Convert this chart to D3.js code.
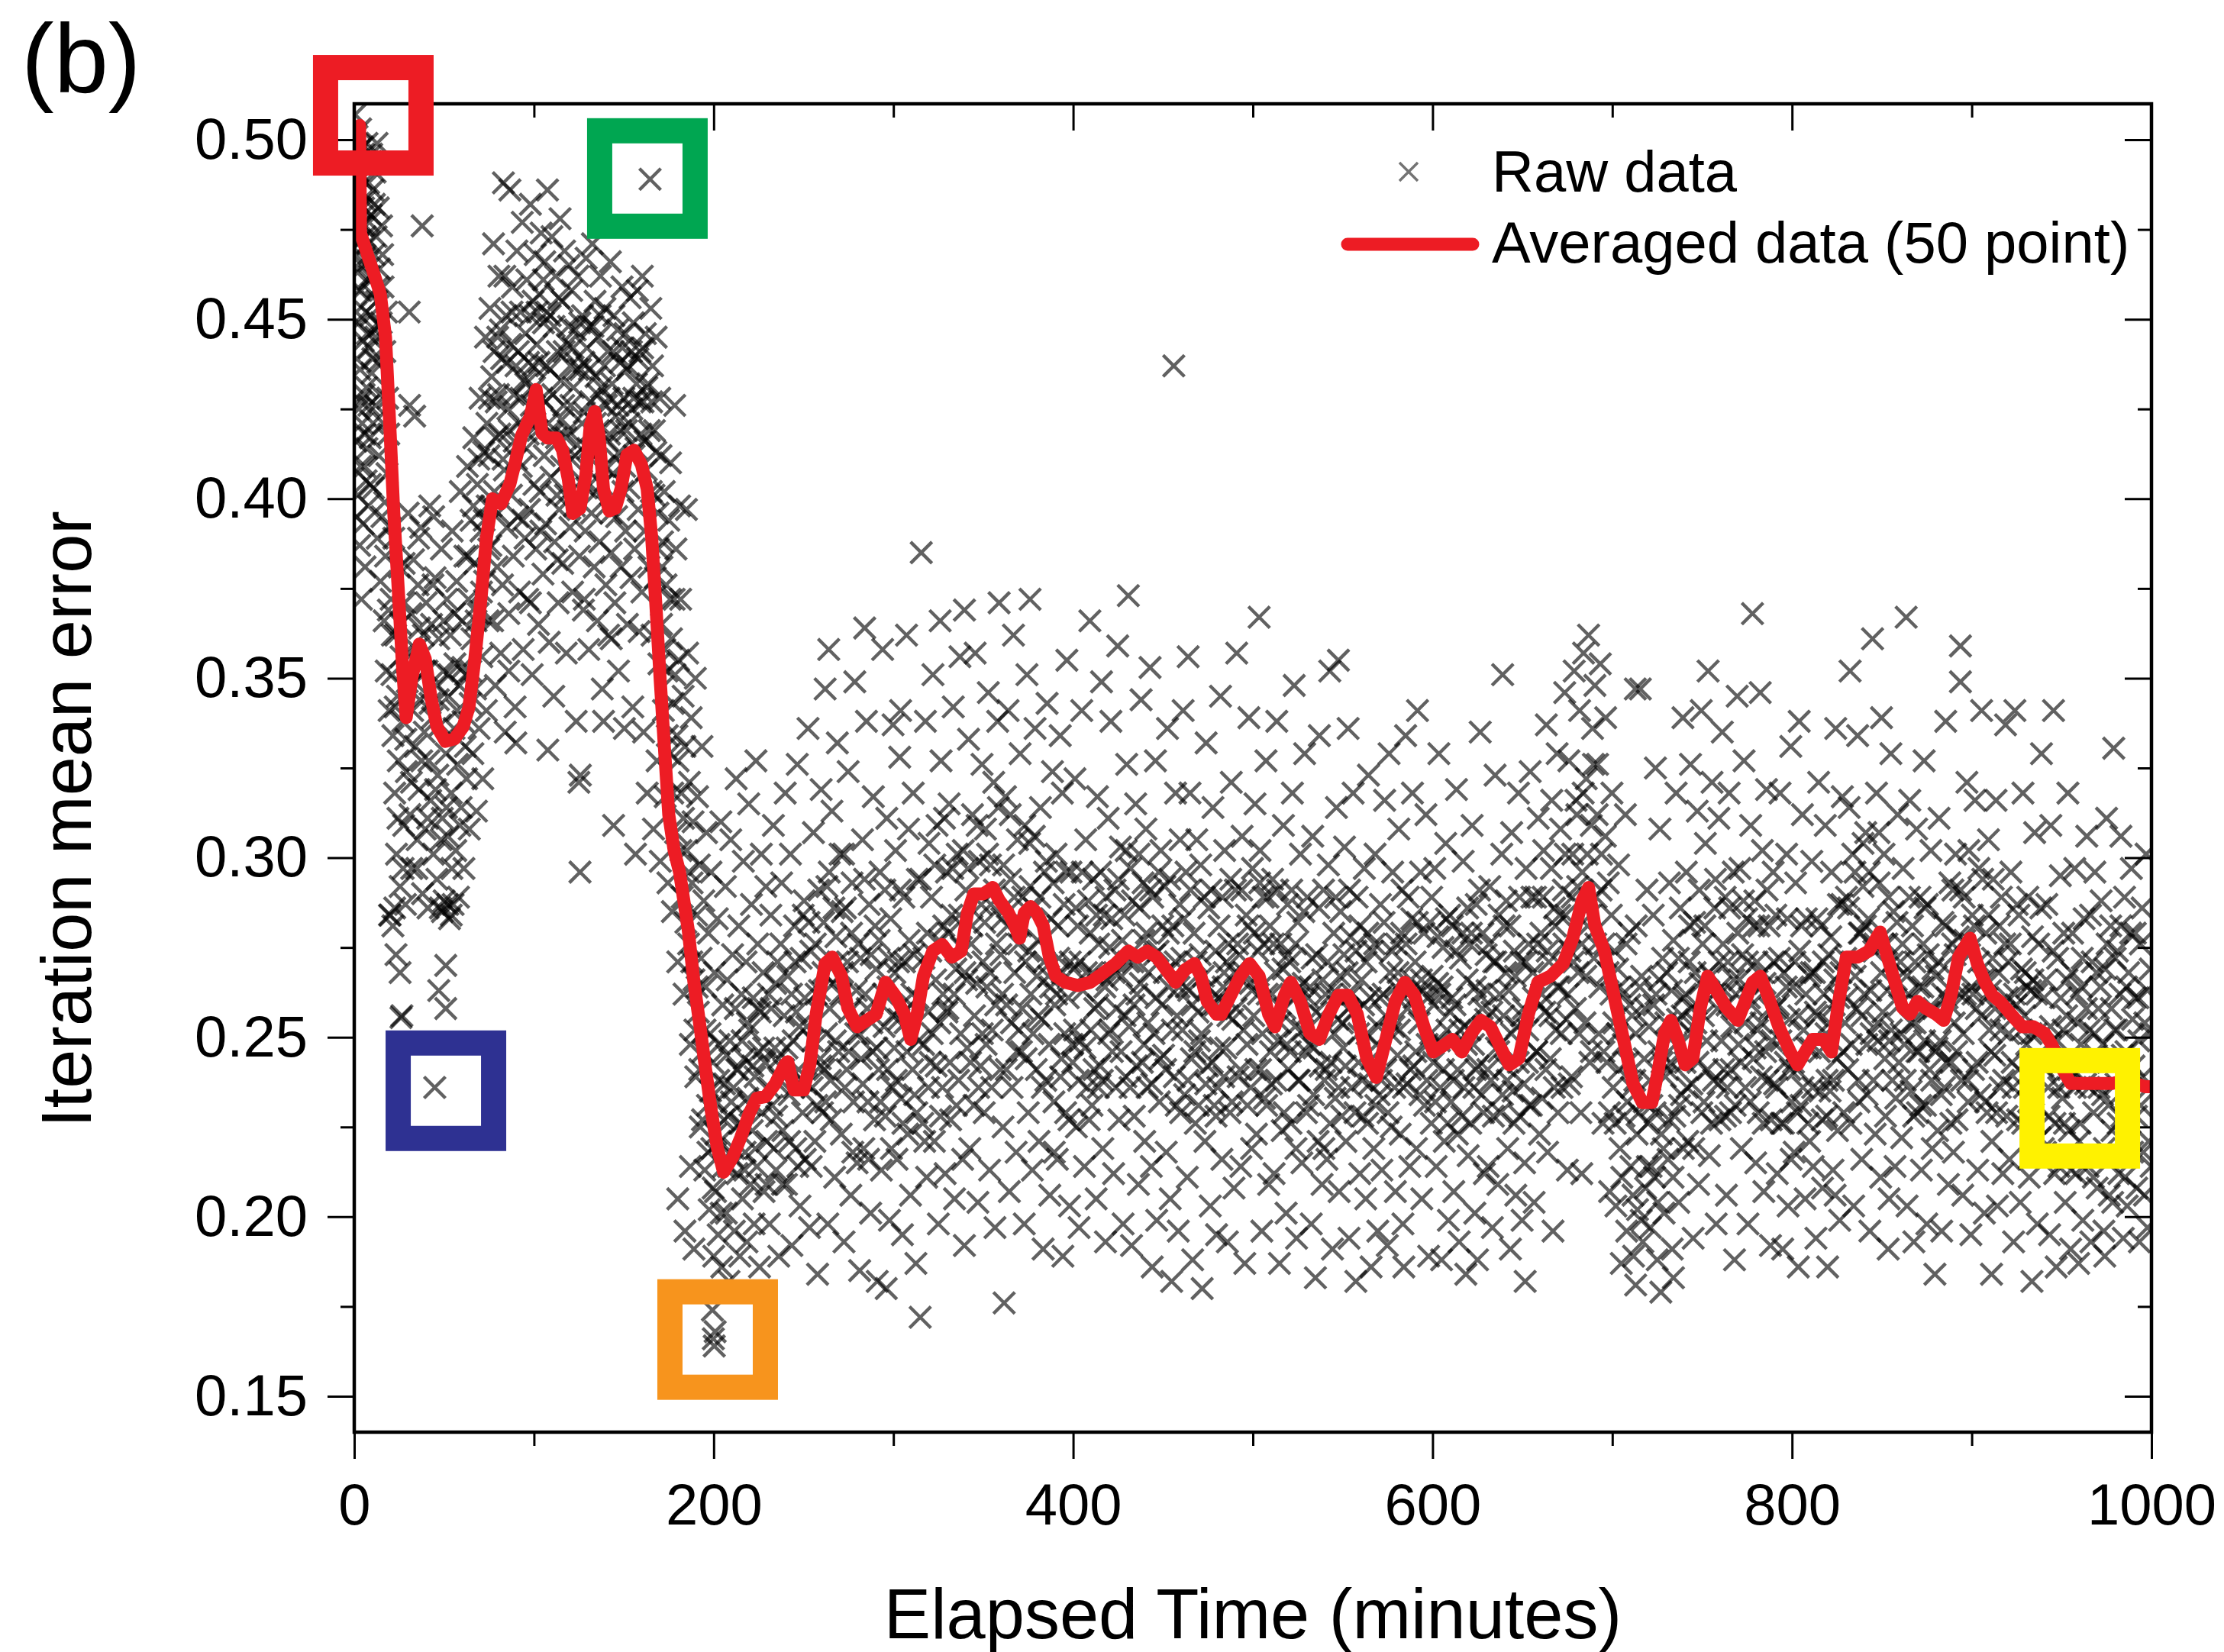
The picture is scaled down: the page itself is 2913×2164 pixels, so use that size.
<!DOCTYPE html>
<html>
<head>
<meta charset="utf-8">
<script src="https://d3js.org/d3.v7.min.js"></script>
<style>
  html, body { margin: 0; padding: 0; background: #fff; }
  svg text { font-family: "Liberation Sans", Arial, sans-serif; fill: #000; }
</style>
</head>
<body>
<svg id="chart"></svg>
<script>
// Tick values
const xTicks = [0, 200, 400, 600, 800, 1000];
const xMinorTicks = [100, 300, 500, 700, 900];
const yTicks = [0.15, 0.20, 0.25, 0.30, 0.35, 0.40, 0.45, 0.50];
const yMinorTicks = [0.175, 0.225, 0.275, 0.325, 0.375, 0.425, 0.475];

// Raw data [minutes, error]
const rawStart = [
  [0.5,0.507],[0.8,0.492],[1.2,0.478],[1.5,0.501],[1.8,0.463],[2.1,0.486],[2.4,0.449],[2.7,0.497],[3,0.472],[3.2,0.436],[3.5,0.503],[3.8,0.458],[4.1,0.489],[4.4,0.421],[4.7,0.476],[5,0.444],[5.3,0.496],[5.6,0.467],[5.9,0.409],[6.2,0.483],[6.5,0.452],[6.8,0.431],[7.1,0.499],[7.4,0.471],[7.7,0.398],[8,0.488],[8.3,0.442],[8.6,0.462],[8.9,0.417],[9.2,0.494],[9.5,0.479],[9.8,0.435],[10.1,0.457],[10.4,0.486],[10.7,0.403],[11,0.468],[11.3,0.447],[11.6,0.491],[11.9,0.426],[12.2,0.473],[12.5,0.455],[12.8,0.389],[13.1,0.438],[13.4,0.481],[13.7,0.412],[14,0.464],[14.3,0.429],[14.6,0.377],[15,0.449],[15.4,0.395],[15.8,0.468],[16.2,0.421],[16.6,0.366],[17,0.441],[17.4,0.384],[17.8,0.352],[18.2,0.407],[18.6,0.428],[19,0.369],[19.4,0.341],[19.8,0.392],[1,0.416],[2,0.401],[3,0.387],[4,0.372],[5,0.393],[6,0.381],[2.5,0.425],[7,0.414],[9,0.404],
  [20.5,0.372],[21,0.351],[21.5,0.334],[22,0.389],[22.5,0.318],[23,0.362],[23.2,0.273],[23.5,0.301],[24,0.345],[24.5,0.327],[25,0.381],[25.5,0.292],[26,0.356],[26.5,0.256],[27,0.338],[27.5,0.309],[28,0.371],[28.5,0.287],[29,0.324],[29.5,0.349],[30,0.396],[30.6,0.452],[30.8,0.426],[31,0.312],[31.5,0.368],[32,0.297],[32.5,0.341],[33,0.383],[33.6,0.423],[34,0.331],[34.5,0.358],[35,0.305],[35.5,0.376],[36,0.319],[36.5,0.344],[37,0.392],[37.8,0.476],[38,0.29],[38.5,0.362],[39,0.335],[39.5,0.308],[40,0.371],[40.5,0.352],[41,0.286],[41.5,0.327],[42,0.398],[42.5,0.316],[43,0.365],[43.5,0.339],[44,0.301],[44.8,0.236],[45,0.378],[45.5,0.348],[46,0.294],[46.5,0.323],[47,0.361],[47.9,0.286],[48,0.337],[48.5,0.386],[49,0.311],[49.5,0.352],[50,0.288],[50.9,0.27],[50.9,0.258],[51,0.329],[51.5,0.372],[52,0.306],[52.5,0.345],[53,0.283],[53.5,0.362],[54,0.318],[54.5,0.391],[55,0.287],[55.5,0.336],[56,0.354],[56.5,0.302],[57,0.377],[57.5,0.326],[58,0.289],[58.5,0.348],[59,0.402],[59.5,0.314],[60,0.366],[60.5,0.338],[61,0.297],[61.5,0.384],[62,0.351],[62.5,0.322],[63,0.409],[63.5,0.372],[64,0.308],[64.5,0.343],[65,0.394],[65.5,0.361],[66,0.329],[66.5,0.417],[67,0.382],[67.5,0.347],[68,0.313],[68.5,0.404],[69,0.368],[69.5,0.336],[70,0.428],[70.5,0.391],[71,0.356],[71.5,0.322],[72,0.413],[72.5,0.377],[73,0.445],[73.5,0.341],[74,0.398],[74.5,0.366],[20,0.284],[21.5,0.281],[22.5,0.286],[19.6,0.284],[26,0.2555],[49,0.285],[52,0.287],[54,0.284],[25.5,0.268],[47,0.263]
];
const rawHump = [
  [75,0.412],[75.5,0.453],[76,0.387],[76.5,0.434],[77,0.366],[77.5,0.471],[78,0.402],[78.5,0.348],[79,0.427],[79.5,0.381],[79.8,0.445],
  [80,0.396],[80.5,0.462],[81,0.418],[81.5,0.357],[82,0.439],[82.5,0.376],[83,0.488],[83.5,0.408],[84,0.335],[84.5,0.451],[85,0.392],
  [85.5,0.425],[86,0.368],[86.6,0.486],[87,0.443],[87.5,0.401],[88,0.459],[88.5,0.384],[89,0.416],[89.5,0.342],[89.9,0.332],[90,0.437],
  [90.5,0.469],[91,0.395],[91.5,0.421],[92,0.374],[92.5,0.452],[93,0.409],[93.5,0.477],[94,0.358],[94.5,0.433],[95,0.389],[95.3,0.446],
  [95.7,0.414],[96,0.461],[96.5,0.372],[97,0.438],[97.5,0.397],[98,0.482],[98.5,0.426],[99,0.351],[99.5,0.455],[100,0.404],[100.3,0.431],
  [100.7,0.468],[101,0.386],[101.5,0.443],[102,0.419],[102.5,0.365],[103,0.457],[103.5,0.402],[104,0.474],[104.5,0.428],[105,0.379],[105.3,0.449],
  [105.7,0.412],[106,0.466],[106.5,0.393],[107,0.437],[107.5,0.486],[107.7,0.33],[108,0.421],[108.5,0.36],[109,0.451],[109.5,0.406],[110,0.473],
  [110.5,0.429],[111,0.345],[111.5,0.388],[112,0.462],[112.5,0.417],[113,0.441],[113.5,0.371],[114,0.397],[114.5,0.478],[115,0.433],[115.3,0.409],
  [115.7,0.455],[116,0.382],[116.5,0.426],[117,0.469],[117.5,0.401],[118,0.357],[118.5,0.443],[119,0.419],[119.5,0.465],[120,0.392],[120.3,0.437],
  [120.7,0.411],[121,0.458],[121.5,0.374],[122,0.431],[122.5,0.398],[123,0.447],[123.5,0.338],[124,0.415],[124.5,0.462],[125,0.321],[125.3,0.384],
  [125.6,0.296],[125.8,0.323],[126,0.436],[126.5,0.405],[127,0.451],[127.5,0.369],[128,0.424],[128.5,0.391],[129,0.467],[129.5,0.442],[130,0.414],
  [130.5,0.358],[131,0.448],[131.5,0.427],[132,0.396],[132.5,0.471],[133,0.412],[133.5,0.381],[134,0.455],[134.5,0.434],[135,0.402],[135.3,0.366],
  [135.7,0.445],[136,0.419],[136.5,0.388],[137,0.462],[137.5,0.431],[138,0.347],[138.7,0.338],[139,0.409],[139.5,0.453],[140,0.376],[140.3,0.426],
  [140.7,0.398],[141,0.441],[141.5,0.362],[142,0.418],[142.5,0.466],[143,0.385],[143.5,0.432],[144,0.407],[144.3,0.309],[144.5,0.451],[145,0.371],
  [145.5,0.423],[146,0.395],[146.5,0.447],[147,0.352],[147.5,0.413],[148,0.438],[148.5,0.381],[149,0.459],[149.5,0.402],[150,0.428],[150.3,0.336],
  [150.7,0.446],[151,0.391],[151.5,0.419],[152,0.365],[152.5,0.437],[153,0.403],[153.5,0.456],[154,0.378],[154.5,0.425],[155,0.342],[155.3,0.449],
  [155.7,0.412],[156,0.386],[156.5,0.301],[157,0.432],[157.5,0.458],[158,0.397],[158.5,0.363],[159,0.441],[159.5,0.418],[160,0.374],[160.3,0.462],
  [160.7,0.427],[161,0.335],[161.5,0.391],[162,0.446],[162.5,0.408],[163,0.318],[163.5,0.432],[164,0.381],[164.6,0.489],[165,0.453],[165.3,0.402],
  [165.7,0.362],[166,0.437],[166.5,0.308],[167,0.419],[167.5,0.378],[168,0.445],[168.5,0.327],[169,0.396],[169.5,0.354],[170,0.428],[170.3,0.299]
];
const rawDrop = [
  [170.7,0.412],[171,0.365],[171.5,0.388],[172,0.341],[172.5,0.402],[173,0.317],[173.5,0.376],[174,0.352],[174.5,0.293],[175,0.394],[175.5,0.329],[176,0.41],[176.5,0.361],[177,0.285],[177.5,0.343],[178,0.372],[178.3,0.426],[178.8,0.307],[179,0.386],[179.5,0.334],[180,0.271],[180.5,0.355],[181,0.398],[181.6,0.372],[182,0.318],[182.5,0.289],[183,0.345],[183.5,0.262],[184,0.331],[184.8,0.397],[185,0.302],[185.5,0.357],[186,0.276],[186.5,0.321],[187,0.248],[187.5,0.339],[188,0.293],[188.5,0.31],[189,0.266],[189.8,0.35],[190,0.239],[190.5,0.284],[191,0.317],[191.5,0.257],[192,0.298],[192.5,0.225],[193,0.272],[193.5,0.331],[194,0.246],[194.5,0.288],[195,0.213],[195.5,0.264],[196,0.307],[196.5,0.231],[197,0.279],[197.5,0.202],[198,0.251],[198.5,0.296],[199,0.219],[199.5,0.243],[199.3,0.174],[199.8,0.166],[200.3,0.164],[200.8,0.168],[200,0.189],[200.5,0.268],[201,0.207],[201.5,0.232],[202,0.283],[202.5,0.195],[203,0.248],[203.5,0.221],[204,0.31],[204.5,0.186],[205,0.259],[205.5,0.214],[206,0.237],[206.5,0.292],[207,0.201],[207.5,0.266],[208,0.228],[208.5,0.182],[209,0.249],[209.5,0.305],[210,0.217],[210.5,0.273],[211,0.236],[211.5,0.196],[212,0.258],[212.5,0.322],[213,0.212],[213.5,0.241],[214,0.281],[214.5,0.189],[215,0.226],[215.5,0.262],[216,0.205],[216.5,0.299],[217,0.244],[217.5,0.218],[218,0.271],[218.5,0.193],[219,0.233],[219.5,0.315],[220,0.252],[220.5,0.209],[221,0.287],[221.5,0.224],[222,0.261],[222.5,0.198],[223,0.239],[223.5,0.327],[224,0.214],[224.5,0.276],[225,0.246],[225.5,0.186],[226,0.257],[226.5,0.301],[227,0.229],[227.5,0.268],[228,0.207],[228.5,0.243],[229,0.292],[229.5,0.221],[180,0.205],[184,0.196],[187,0.214],[189,0.191]
];
const rawPlateau = [
  [230.5,0.262],[231,0.198],[231.8,0.284],[232.5,0.231],[233.2,0.309],[234,0.247],[234.7,0.213],[235.5,0.271],[236.2,0.189],[237,0.238],[237.8,0.293],[238.5,0.224],[239.2,0.256],[239.8,0.318],
  [240.5,0.209],[241.2,0.267],[242,0.234],[242.7,0.301],[243.5,0.192],[244.2,0.249],[245,0.281],[245.7,0.219],[246.5,0.326],[247.2,0.241],[248,0.203],[248.7,0.272],[249.5,0.229],[246,0.257],
  [250.3,0.288],[251,0.216],[251.8,0.253],[252.5,0.336],[253.3,0.197],[254,0.274],[254.8,0.236],[255.5,0.307],[256.3,0.221],[257,0.262],[257.8,0.184],[258.5,0.291],[259.3,0.244],[259.8,0.319],
  [260.5,0.229],[261.2,0.282],[262,0.347],[262.8,0.251],[263.5,0.198],[264.3,0.296],[265,0.238],[265.8,0.313],[266.5,0.265],[267.3,0.211],[268,0.278],[268.8,0.332],[269.5,0.246],[264,0.358],
  [270.3,0.301],[271,0.223],[271.8,0.268],[272.5,0.193],[273.3,0.286],[274,0.241],[274.8,0.324],[275.5,0.257],[276.3,0.206],[277,0.293],[277.8,0.232],[278.5,0.349],[279.3,0.263],[279.8,0.215],
  [280.5,0.276],[281.2,0.185],[282,0.244],[282.8,0.305],[283.5,0.219],[284.3,0.262],[285,0.338],[285.8,0.232],[286.5,0.287],[287.3,0.201],[288,0.254],[288.8,0.317],[289.5,0.227],[284,0.364],
  [290.3,0.269],[291,0.182],[291.8,0.241],[292.5,0.296],[293.3,0.213],[294,0.358],[294.8,0.253],[295.5,0.228],[296,0.18],[296.3,0.311],[297,0.264],[297.8,0.199],[298.5,0.283],[299.3,0.236],[299.8,0.337],
  [300.5,0.247],[301.2,0.302],[302,0.216],[302.8,0.271],[303.5,0.328],[304.3,0.233],[305,0.195],[305.8,0.289],[306.5,0.254],[307.3,0.362],[308,0.223],[308.8,0.277],[309.5,0.206],[304,0.341],
  [310.3,0.262],[311,0.318],[311.8,0.234],[312.5,0.187],[313.3,0.294],[314,0.249],[314.9,0.172],[315.5,0.385],[316.3,0.226],[317,0.272],[317.8,0.338],[318.5,0.211],[319.3,0.257],[319.8,0.304],
  [320.5,0.243],[321.2,0.289],[322,0.351],[322.8,0.221],[323.5,0.266],[324.3,0.309],[325,0.198],[325.8,0.254],[326.5,0.327],[327.3,0.236],[328,0.281],[328.8,0.212],[329.5,0.296],[326,0.366],
  [330.3,0.258],[331,0.315],[331.8,0.227],[332.5,0.284],[333.3,0.342],[334,0.205],[334.8,0.269],[335.5,0.301],[336.3,0.238],[337,0.356],[337.8,0.275],[338.5,0.216],[339.5,0.369],[339.5,0.192],
  [340.3,0.291],[341,0.247],[341.8,0.333],[342.5,0.219],[343.3,0.276],[344,0.312],[344.8,0.231],[345.5,0.357],[346.3,0.265],[347,0.204],[347.8,0.299],[348.5,0.242],[349.3,0.326],[349.8,0.271],
  [350.5,0.229],[351.2,0.308],[352,0.264],[352.8,0.346],[353.5,0.213],[354.3,0.287],[355,0.252],[355.8,0.321],[356.5,0.197],[357.3,0.276],[358,0.338],[358.8,0.371],[359.5,0.241],[354,0.298],
  [360.3,0.283],[361,0.225],[361.6,0.176],[362.3,0.317],[363,0.259],[363.8,0.341],[364.5,0.207],[365.3,0.294],[366,0.236],[366.8,0.362],[367.5,0.268],[368.3,0.218],[369,0.305],[369.8,0.252],
  [370.5,0.329],[371.2,0.246],[372,0.289],[372.8,0.198],[373.5,0.271],[374.3,0.351],[375,0.229],[375.8,0.304],[376.5,0.262],[377.3,0.213],[378,0.286],[378.8,0.336],[379.5,0.241],[376,0.372],
  [380.3,0.277],[381,0.221],[381.8,0.314],[382.5,0.255],[383.3,0.191],[384,0.296],[384.8,0.238],[385.5,0.343],[386.3,0.267],[387,0.206],[387.8,0.283],[388.5,0.324],[389.3,0.232],[389.8,0.259],
  [390.5,0.301],[391.2,0.216],[392,0.272],[392.8,0.334],[393.5,0.244],[394.3,0.189],[395,0.287],[395.8,0.229],[396.5,0.355],[397.3,0.261],[398,0.203],[398.8,0.296],[399.5,0.248],[394,0.318],
  [400.3,0.269],[401,0.322],[401.8,0.225],[402.5,0.281],[403.3,0.197],[404,0.249],[404.8,0.341],[405.5,0.263],[406.3,0.214],[407,0.305],[407.8,0.236],[408.5,0.288],[409.3,0.366],[409.8,0.252],
  [410.5,0.231],[411.2,0.294],[412,0.258],[412.8,0.205],[413.5,0.317],[414.3,0.276],[415,0.242],[415.8,0.349],[416.5,0.219],[417.3,0.284],[418,0.193],[418.8,0.266],[419.5,0.311],[414,0.236],
  [420.3,0.275],[421,0.338],[421.8,0.246],[422.5,0.212],[423.3,0.291],[424,0.258],[424.8,0.359],[425.5,0.227],[426.3,0.303],[427,0.267],[427.8,0.198],[428.5,0.284],[429.3,0.239],[429.8,0.326],
  [430.7,0.373],[431.2,0.253],[432,0.297],[432.5,0.192],[433.3,0.271],[434,0.228],[434.8,0.315],[435.5,0.262],[436.3,0.209],[437,0.286],[437.8,0.344],[438.5,0.243],[439.3,0.277],[439.8,0.221],
  [440.5,0.308],[441.2,0.236],[442,0.268],[442.8,0.353],[443.5,0.214],[444.3,0.289],[445,0.251],[445.8,0.327],[446.5,0.199],[447.3,0.274],[448,0.232],[448.8,0.302],[449.5,0.259],[444,0.186],
  [450.3,0.245],[451,0.292],[451.8,0.218],[452.5,0.336],[453.3,0.264],[454,0.205],[454.8,0.182],[455.5,0.281],[456,0.437],[456.3,0.239],[457,0.318],[457.8,0.256],[458.5,0.196],[459.3,0.287],[459.8,0.229],
  [460.5,0.272],[461.2,0.341],[462,0.234],[462.8,0.296],[463.5,0.211],[464.3,0.263],[465,0.318],[465.8,0.244],[466.5,0.188],[467.3,0.279],[468,0.226],[468.8,0.305],[469.5,0.257],[464,0.356],
  [470.3,0.249],[471,0.298],[471.8,0.18],[472.5,0.267],[473.3,0.221],[474,0.332],[474.8,0.242],[475.5,0.286],[476.3,0.203],[477,0.259],[477.8,0.314],[478.5,0.231],[479.3,0.274],[479.8,0.195],
  [480.5,0.236],[481.2,0.281],[482,0.345],[482.8,0.216],[483.5,0.264],[484.3,0.302],[485,0.247],[485.8,0.193],[486.5,0.276],[487.3,0.229],[488,0.321],[488.8,0.255],[489.5,0.208],[484,0.268],
  [490.3,0.291],[491,0.357],[491.8,0.239],[492.5,0.273],[493.3,0.214],[494,0.306],[494.8,0.252],[495.5,0.187],[496.3,0.284],[497,0.231],[497.8,0.339],[498.5,0.265],[499.3,0.219],[499.8,0.297],
  [500.5,0.256],[501.2,0.315],[502,0.223],[502.8,0.274],[503.5,0.367],[504.3,0.241],[505,0.196],[505.8,0.289],[506.5,0.233],[507.3,0.327],[508,0.262],[508.8,0.209],[509.5,0.281],[504,0.302],
  [510.3,0.237],[511,0.294],[511.8,0.212],[512.5,0.268],[513.3,0.338],[514,0.249],[514.8,0.187],[515.5,0.276],[516.3,0.224],[517,0.309],[517.8,0.258],[518.5,0.201],[519.3,0.287],[519.8,0.241],
  [520.5,0.271],[521.2,0.226],[522,0.318],[523,0.348],[523.5,0.253],[524.3,0.194],[525,0.282],[525.8,0.238],[526.5,0.301],[527.3,0.215],[528,0.265],[528.8,0.329],[529.5,0.246],[524,0.219],
  [530.3,0.289],[531,0.231],[531.8,0.264],[532.5,0.198],[533.3,0.306],[534,0.247],[534.8,0.183],[535.5,0.273],[536.3,0.221],[537,0.334],[537.8,0.256],[538.5,0.209],[539.3,0.291],[539.8,0.238],
  [540.5,0.262],[541.2,0.216],[542,0.298],[542.8,0.352],[543.5,0.243],[544.3,0.191],[545,0.279],[545.8,0.233],[546.5,0.314],[547.3,0.255],[547.6,0.355],[548,0.207],[548.8,0.285],[549.5,0.228],
  [550.3,0.247],[551,0.303],[551.8,0.221],[552.5,0.268],[553,0.336],[553.5,0.194],[554.3,0.278],[555,0.236],[555.8,0.318],[556.5,0.257],[557.3,0.182],[558,0.289],[558.8,0.243],[559.5,0.212],
  [560.5,0.266],[561.2,0.228],[562,0.297],[562.8,0.205],[563.5,0.251],[564.3,0.323],[565,0.237],[565.8,0.186],[566.5,0.274],[567.3,0.219],[568,0.301],[568.8,0.248],[569.5,0.196],[564,0.279],
  [570.3,0.234],[571,0.287],[571.8,0.213],[572.5,0.262],[573.3,0.316],[574,0.241],[574.8,0.192],[575.8,0.329],[576.3,0.268],[577,0.225],[577.8,0.296],[578.5,0.253],[579.3,0.207],[579.8,0.276],
  [580.5,0.245],[581.2,0.308],[582,0.223],[582.8,0.279],[583.5,0.198],[584.3,0.261],[585,0.334],[585.8,0.237],[586.5,0.289],[587.3,0.214],[588,0.266],[588.8,0.318],[589.5,0.242],[584,0.186],
  [590.3,0.271],[591,0.219],[591.6,0.341],[592.5,0.254],[593.3,0.296],[594,0.205],[594.8,0.263],[595.5,0.231],[596.3,0.312],[597,0.248],[597.8,0.189],[598.5,0.282],[599.3,0.226],[599.8,0.267],
  [600.5,0.243],[601.2,0.297],[602,0.214],[602.8,0.265],[603.5,0.329],[604.3,0.236],[605,0.188],[605.8,0.275],[606.5,0.221],[607.3,0.304],[608,0.252],[608.8,0.199],[609.5,0.284],[604,0.262],
  [610.3,0.232],[611,0.281],[611.8,0.207],[612.5,0.259],[613.3,0.319],[614,0.241],[614.8,0.193],[615.5,0.272],[616.3,0.228],[617,0.299],[617.8,0.253],[618.5,0.184],[619.3,0.266],[619.8,0.217],
  [620.5,0.276],[621.2,0.226],[622,0.309],[622.8,0.248],[623.5,0.201],[624.3,0.287],[625,0.188],[625.8,0.262],[626.5,0.335],[627.3,0.234],[628,0.279],[628.8,0.212],[629.5,0.255],[624,0.241],
  [630.3,0.263],[631,0.214],[631.8,0.292],[632.5,0.238],[633.3,0.197],[634,0.271],[634.8,0.323],[635.5,0.247],[636.3,0.209],[637,0.284],[637.8,0.229],[638.5,0.301],[639,0.351],[639.5,0.256],
  [640.3,0.242],[641,0.288],[641.8,0.219],[642.5,0.263],[643.3,0.191],[644,0.307],[644.8,0.235],[645.5,0.274],[646.3,0.206],[647,0.253],[647.8,0.318],[648.5,0.228],[649.3,0.271],[649.8,0.199],
  [650.5,0.258],[651.2,0.215],[651.5,0.182],[652,0.297],[652.8,0.243],[653.5,0.276],[654.3,0.324],[655,0.231],[655.8,0.268],[656.5,0.204],[657.3,0.289],[658,0.246],[658.8,0.311],[659.5,0.223],
  [660.3,0.279],[661,0.233],[661.8,0.302],[662.5,0.257],[663.3,0.337],[664,0.218],[664.8,0.271],[665.5,0.244],[666.3,0.316],[667,0.196],[667.8,0.286],[668.5,0.252],[669.3,0.329],[669.8,0.229],
  [670.5,0.264],[671.2,0.308],[672,0.236],[672.8,0.291],[673.5,0.346],[674.3,0.255],[675,0.213],[675.8,0.327],[676.5,0.274],[677.3,0.239],[678,0.301],[678.8,0.352],[679.5,0.258],[674,0.284],
  [680.3,0.312],[681,0.268],[681.8,0.341],[682.5,0.229],[683.3,0.296],[684,0.357],[684.8,0.254],[685.5,0.322],[686.3,0.281],[686.8,0.362],[687.5,0.243],[688.3,0.309],[689,0.336],[689.8,0.272],[683,0.212],
  [690.3,0.348],[691,0.289],[691.8,0.326],[692.5,0.251],[693.3,0.354],[694,0.301],[694.8,0.226],[695.5,0.276],[696.3,0.339],[697,0.243],[697.8,0.293],[698.5,0.207],[699.3,0.262],[699.8,0.318],
  [700.5,0.236],[701.2,0.274],[702,0.203],[702.8,0.251],[703.5,0.298],[704.3,0.219],[705,0.187],[705.8,0.262],[706.5,0.228],[707.3,0.312],[708,0.196],[708.8,0.243],[709.5,0.279],[704,0.264],
  [710.3,0.214],[711,0.256],[711.8,0.189],[712.5,0.238],[712.8,0.347],[713.3,0.281],[714,0.202],[714.8,0.229],[715.6,0.347],[716.3,0.267],[717,0.193],[717.8,0.244],[718.5,0.208],[719.3,0.291],[719.8,0.226],[713,0.181],
  [720.5,0.253],[721.2,0.197],[722,0.231],[722.8,0.284],[723.5,0.211],[724.3,0.262],[725,0.188],[725.8,0.246],[726.5,0.308],[727.3,0.223],[728,0.272],[728.8,0.201],[729.5,0.239],[724,0.325],[727,0.179],
  [730.3,0.268],[731,0.216],[731.8,0.293],[732.5,0.243],[733.3,0.191],[734,0.277],[734.8,0.228],[735.5,0.318],[736.3,0.255],[737,0.204],[737.8,0.286],[738.5,0.234],[739.3,0.339],[739.8,0.261],[734,0.183],
  [740.5,0.243],[741.2,0.296],[742,0.221],[742.8,0.271],[743.5,0.326],[744.3,0.237],[745,0.194],[745.8,0.282],[746.5,0.254],[747.3,0.313],[748,0.209],[748.8,0.265],[749.5,0.341],[744,0.258],
  [750.3,0.276],[751,0.232],[751.8,0.304],[752.5,0.249],[753.3,0.352],[754,0.217],[754.8,0.267],[755.5,0.321],[756.3,0.238],[757,0.286],[757.8,0.198],[758.5,0.258],[759.3,0.311],[759.8,0.227],
  [760.5,0.264],[761.2,0.335],[762,0.241],[762.8,0.289],[763.5,0.206],[764.3,0.271],[765,0.318],[765.8,0.229],[766.5,0.253],[767.3,0.296],[768,0.188],[768.8,0.262],[769.5,0.345],[764,0.236],
  [770.3,0.248],[771,0.297],[771.8,0.219],[772.5,0.273],[773.3,0.327],[774,0.236],[774.8,0.283],[775.5,0.198],[776.3,0.261],[777,0.309],[778,0.368],[778.5,0.244],[779.3,0.288],[779.8,0.215],
  [780.5,0.271],[781.2,0.229],[782.3,0.346],[782.8,0.254],[783.5,0.302],[784.3,0.207],[785,0.265],[785.8,0.319],[786.5,0.238],[787.3,0.281],[788,0.192],[788.8,0.249],[789.5,0.296],[784,0.226],
  [790.3,0.237],[791,0.284],[791.8,0.212],[792.5,0.259],[793.3,0.318],[794,0.226],[794.8,0.191],[795.5,0.268],[796.3,0.243],[797,0.301],[797.8,0.203],[798.5,0.255],[799.3,0.331],[799.8,0.232],
  [800.5,0.264],[801.2,0.218],[802,0.293],[802.8,0.241],[803.5,0.186],[804.3,0.274],[805,0.231],[805.8,0.312],[806.5,0.252],[807.3,0.205],[808,0.283],[808.8,0.226],[809.5,0.267],[804,0.338],
  [810.3,0.247],[811,0.299],[811.8,0.214],[812.5,0.268],[813.3,0.194],[814,0.256],[814.8,0.321],[815.5,0.235],[816.3,0.281],[817,0.208],[817.8,0.262],[818.5,0.309],[819.3,0.228],[819.8,0.186],
  [820.5,0.273],[821.2,0.235],[822,0.296],[822.8,0.213],[823.5,0.259],[824.3,0.336],[825,0.244],[825.8,0.287],[826.5,0.199],[827.3,0.268],[828,0.317],[828.8,0.229],[829.5,0.254],[824,0.206],
  [830.3,0.289],[831,0.241],[831.8,0.314],[832.3,0.352],[832.8,0.226],[833.5,0.271],[834.3,0.203],[835,0.296],[835.8,0.258],[836.5,0.334],[837.3,0.232],[838,0.279],[838.8,0.216],[839.5,0.304],
  [840.3,0.262],[841,0.307],[841.8,0.234],[842.5,0.283],[843.3,0.196],[844,0.251],[844.8,0.361],[845.5,0.274],[846.3,0.223],[847,0.318],[847.8,0.249],[848.5,0.293],[849.3,0.211],[849.8,0.339],
  [850.5,0.257],[851.2,0.301],[852,0.228],[852.8,0.276],[853.5,0.191],[854.3,0.249],[855,0.329],[855.8,0.238],[856.5,0.285],[857.3,0.214],[858,0.266],[858.8,0.312],[859.5,0.243],[854,0.205],
  [860.3,0.271],[861,0.222],[861.8,0.297],[862.5,0.248],[863.5,0.367],[864,0.203],[864.8,0.262],[865.5,0.316],[866.3,0.235],[867,0.281],[867.8,0.193],[868.5,0.254],[869.3,0.308],[869.8,0.229],
  [870.5,0.246],[871.2,0.289],[872,0.213],[872.8,0.264],[873.5,0.327],[874.3,0.231],[875,0.198],[875.8,0.273],[876.5,0.241],[877.3,0.302],[878,0.219],[878.8,0.258],[879.5,0.184],[874,0.286],
  [880.3,0.267],[881,0.224],[881.8,0.311],[882.5,0.249],[883.3,0.196],[884,0.282],[884.8,0.236],[885.5,0.338],[886.3,0.261],[887,0.209],[887.8,0.293],[888.5,0.243],[889.3,0.276],[889.8,0.218],
  [890.3,0.254],[891,0.301],[891.8,0.227],[892.5,0.278],[893.7,0.359],[893.7,0.349],[894.3,0.238],[895,0.206],[895.8,0.289],[896.5,0.262],[897.3,0.321],[898,0.232],[898.8,0.273],[899.5,0.195],
  [900.3,0.284],[901,0.241],[901.8,0.316],[902.5,0.258],[903.3,0.213],[904,0.297],[904.8,0.234],[905.5,0.341],[906.3,0.266],[907,0.201],[907.8,0.279],[908.5,0.229],[909.3,0.305],[909.8,0.252],
  [910.5,0.263],[911,0.184],[911.2,0.221],[912,0.294],[912.8,0.245],[913.5,0.316],[914.3,0.203],[915,0.268],[915.8,0.236],[916.5,0.289],[917.3,0.212],[918,0.257],[918.8,0.337],[919.5,0.228],
  [920.3,0.271],[921,0.216],[921.8,0.296],[922.5,0.243],[923.3,0.193],[924,0.341],[924.8,0.259],[925.5,0.227],[926.3,0.284],[927,0.204],[927.8,0.252],[928.5,0.318],[929.3,0.236],[929.8,0.268],
  [930.5,0.248],[931.2,0.289],[932,0.211],[932.8,0.263],[933.5,0.182],[934.3,0.234],[935,0.307],[935.8,0.251],[936.5,0.198],[937.3,0.276],[938,0.222],[938.8,0.329],[939.5,0.242],[934,0.266],
  [940.3,0.261],[941,0.218],[941.8,0.287],[942.5,0.236],[943.3,0.195],[944,0.309],[944.8,0.249],[945.5,0.341],[946.3,0.226],[947,0.186],[947.8,0.272],[948.5,0.214],[949.3,0.295],[949.8,0.243],
  [950.5,0.233],[951.2,0.279],[952,0.204],[952.8,0.256],[953.5,0.318],[954.3,0.224],[955,0.191],[955.8,0.268],[956.5,0.241],[957.3,0.297],[958,0.212],[958.8,0.254],[959.5,0.187],[954,0.238],
  [960.3,0.226],[961,0.264],[961.8,0.199],[962.5,0.283],[963.3,0.237],[964,0.306],[964.8,0.214],[965.5,0.252],[966.3,0.193],[967,0.271],[967.8,0.229],[968.5,0.296],[969.3,0.245],[969.8,0.208],
  [970.5,0.258],[971.2,0.217],[972,0.288],[972.8,0.234],[973.5,0.196],[974.3,0.269],[975,0.311],[975.8,0.243],[976.5,0.206],[977.3,0.281],[978,0.224],[979,0.3305],[979.5,0.252],[974,0.189],
  [980.3,0.237],[981,0.274],[981.8,0.212],[982.5,0.262],[983,0.306],[983.5,0.228],[984.3,0.194],[985,0.289],[985.8,0.246],[986.5,0.203],[987.3,0.268],[988,0.221],[988.8,0.297],[989.5,0.255],
  [990.3,0.242],[991,0.279],[991.8,0.208],[992.5,0.261],[993.3,0.193],[994,0.231],[994.8,0.286],[995.5,0.218],[996.3,0.254],[997,0.301],[997.8,0.197],[998.5,0.236],[999.3,0.269],[999.8,0.214]
];
// Dense core of the raw cloud (extra points where the crosses overlap)
const rawCoreA = [
  [0.3,0.495],[0.7,0.468],[1.1,0.452],[1.4,0.439],[1.7,0.491],[2.2,0.471],[2.6,0.458],[3.4,0.481],[3.7,0.427],[4.2,0.465],[4.6,0.498],[5.2,0.481],[5.5,0.429],[6.1,0.473],[6.6,0.405],[7.2,0.446],[7.9,0.461],[8.4,0.477],[9.1,0.451],[9.7,0.496],[10.3,0.439],[11.2,0.482],[12,0.445],[12.7,0.499],[13.3,0.459],[14.1,0.448],[15.2,0.476],[16,0.459],[16.9,0.399],[18,0.452],[19.2,0.418],[1.3,0.395],[3.6,0.409],[5.8,0.418],[8.1,0.426],[10.5,0.421],
  [21.2,0.362],[22.8,0.342],[24.3,0.311],[25.8,0.365],[27.2,0.297],[28.7,0.333],[30.3,0.357],[31.8,0.321],[33.3,0.349],[34.8,0.297],[36.3,0.364],[37.5,0.327],[39.2,0.352],[40.8,0.311],[42.2,0.343],[43.8,0.376],[45.2,0.319],[46.8,0.344],[48.3,0.305],[49.8,0.366],[51.3,0.314],[52.8,0.351],[54.3,0.297],[55.8,0.368],[57.3,0.341],[58.8,0.309],[60.3,0.353],[61.8,0.331],[63.3,0.384],[64.8,0.352],[66.3,0.398],[67.8,0.366],[69.3,0.411],[70.8,0.374],[72.3,0.394],[73.8,0.421],[74.8,0.386],[27.8,0.382],[35.8,0.389],[44.2,0.395],
  [75.2,0.428],[76.2,0.398],[77.8,0.441],[78.8,0.417],[80.3,0.429],[81.3,0.447],[82.8,0.411],[83.8,0.462],[85.2,0.438],[86.3,0.419],[87.8,0.452],[88.8,0.429],[90.3,0.411],[91.3,0.441],[92.8,0.428],[93.8,0.394],[95.5,0.432],[96.8,0.418],[97.8,0.451],[99.2,0.437],[100.5,0.421],[101.8,0.452],[102.8,0.438],[103.8,0.391],[105.2,0.461],[106.2,0.427],[107.2,0.452],[108.8,0.436],[110.2,0.418],[111.2,0.448],[112.8,0.401],[113.8,0.456],[115.5,0.422],[116.8,0.441],[117.8,0.417],[119.2,0.448],[120.5,0.426],[121.8,0.442],[122.8,0.412],[124.2,0.436],[125.5,0.449],[126.8,0.421],[127.8,0.438],[129.2,0.403],[130.8,0.436],[131.8,0.411],[132.8,0.448],[134.2,0.421],[135.5,0.429],[136.8,0.451],[137.8,0.404],[139.2,0.437],[140.5,0.416],[141.8,0.428],[142.8,0.396],[144.2,0.441],[145.8,0.411],[146.8,0.426],[148.2,0.419],[149.2,0.442],[150.5,0.409],[151.8,0.436],[152.8,0.421],[154.2,0.441],[155.5,0.428],[156.8,0.414],[157.8,0.439],[159.2,0.427],[160.5,0.442],[161.8,0.416],[162.8,0.431],[164.2,0.419],[165.5,0.427],[166.8,0.401],[167.8,0.413],[169.2,0.386],[143,0.361],[128,0.372],[113,0.383],[98,0.371],[86,0.352],
  [171.2,0.381],[172.8,0.358],[174.2,0.334],[175.8,0.372],[177.2,0.318],[178.5,0.351],[180.2,0.327],[181.8,0.302],[183.2,0.311],[184.5,0.282],[186.2,0.296],[187.8,0.271],[189.5,0.252],[190.8,0.264],[192.2,0.241],[193.8,0.227],[195.2,0.252],[196.8,0.218],[198.2,0.235],[199.7,0.208],[201.2,0.223],[202.8,0.238],[204.2,0.201],[205.8,0.227],[207.2,0.245],[208.2,0.214],[209.8,0.232],[211.2,0.219],[212.8,0.241],[214.2,0.226],[215.8,0.249],[217.2,0.213],[218.8,0.254],[220.2,0.231],[221.8,0.242],[223.2,0.219],[224.8,0.258],[226.2,0.234],[227.8,0.247],[229.2,0.209]
];
const rawCoreB = [
  [230.8,0.236],[232,0.258],[233.5,0.219],[234.5,0.265],[236,0.244],[237.3,0.276],[238.3,0.209],[239,0.241],[235,0.228],
  [240.8,0.247],[242.2,0.221],[243.3,0.262],[244.6,0.236],[245.3,0.271],[246.8,0.214],[247.7,0.253],[249,0.238],[249.8,0.284],
  [250.7,0.261],[251.6,0.237],[253,0.282],[254.3,0.214],[255.2,0.249],[256.6,0.276],[257.4,0.231],[258.9,0.263],[259.6,0.242],
  [260.8,0.268],[261.6,0.241],[263,0.292],[264.6,0.258],[265.4,0.227],[266.9,0.286],[267.7,0.249],[269.2,0.271],[262.3,0.232],
  [270.7,0.262],[271.5,0.285],[273,0.236],[274.4,0.271],[275.2,0.246],[276.7,0.279],[277.4,0.218],[279,0.251],[272.3,0.301],
  [280.8,0.251],[281.7,0.272],[283,0.237],[283.9,0.294],[285.4,0.258],[286.2,0.216],[287.6,0.273],[288.4,0.246],[289.8,0.281],
  [290.7,0.247],[292.1,0.277],[292.9,0.232],[294.4,0.262],[295.2,0.291],[296.7,0.241],[297.5,0.272],[298.9,0.219],[299.5,0.256],
  [300.8,0.268],[301.6,0.238],[303,0.255],[303.9,0.291],[305.3,0.226],[306.1,0.271],[307.6,0.246],[308.4,0.308],[309.8,0.259],
  [310.7,0.241],[311.4,0.273],[313,0.229],[313.7,0.261],[315.1,0.294],[316.8,0.248],[317.4,0.221],[318.9,0.279],[319.5,0.236],
  [320.8,0.274],[321.6,0.251],[323,0.298],[323.8,0.242],[325.4,0.277],[326.2,0.228],[327.6,0.262],[328.4,0.311],[329.8,0.257],
  [330.7,0.279],[331.4,0.243],[333,0.297],[333.8,0.262],[335.1,0.231],[336.7,0.284],[337.4,0.251],[338.9,0.302],[339.8,0.268],
  [340.7,0.266],[341.4,0.297],[342.9,0.243],[343.7,0.281],[345.1,0.256],[346.6,0.309],[347.4,0.236],[348.9,0.287],[349.5,0.251],
  [350.8,0.282],[351.6,0.248],[352.4,0.301],[353.9,0.268],[354.7,0.236],[356.2,0.291],[356.9,0.259],[358.4,0.314],[359.8,0.273],
  [360.7,0.262],[361.3,0.298],[362.8,0.241],[363.4,0.281],[365,0.312],[365.7,0.254],[367.2,0.289],[368.7,0.246],[369.4,0.276],
  [370.8,0.281],[371.6,0.258],[373.1,0.309],[373.9,0.244],[375.3,0.274],[376.1,0.292],[377.7,0.251],[378.4,0.306],[379.8,0.267],
  [380.7,0.256],[381.5,0.289],[382.9,0.236],[383.8,0.271],[385.1,0.299],[386.7,0.248],[387.4,0.264],[388.9,0.293],[389.5,0.218],
  [390.8,0.262],[391.6,0.281],[393,0.239],[393.9,0.268],[395.3,0.251],[396.1,0.296],[397.7,0.227],[398.4,0.271],[399.8,0.243],
  [400.7,0.252],[401.5,0.286],[403,0.238],[403.8,0.271],[405.1,0.296],[406.6,0.247],[407.4,0.268],[408.9,0.227],[409.5,0.279],
  [410.8,0.268],[411.6,0.241],[413,0.284],[413.8,0.259],[415.3,0.296],[416.2,0.238],[417.7,0.264],[418.4,0.289],[419.8,0.251],
  [420.7,0.252],[421.5,0.283],[423,0.268],[423.8,0.236],[425.2,0.294],[426.7,0.246],[427.4,0.277],[428.9,0.256],[429.5,0.302],
  [430.8,0.271],[431.7,0.236],[433,0.288],[433.9,0.259],[435.2,0.242],[436.7,0.301],[437.4,0.265],[438.9,0.293],[439.5,0.248],
  [440.8,0.279],[441.6,0.254],[443,0.291],[443.8,0.237],[445.3,0.273],[446.1,0.261],[447.7,0.296],[448.4,0.244],[449.8,0.281],
  [450.7,0.268],[451.5,0.241],[453,0.279],[453.8,0.294],[455.2,0.252],[456.8,0.271],[457.4,0.231],[458.9,0.264],[459.5,0.305],
  [460.8,0.252],[461.7,0.283],[463,0.264],[463.9,0.238],[465.3,0.291],[466.2,0.259],[467.7,0.246],[468.4,0.271],[469.8,0.231],
  [470.7,0.273],[471.5,0.251],[473,0.289],[473.8,0.237],[475.2,0.264],[476.7,0.291],[477.4,0.243],[478.9,0.259],[479.5,0.228],
  [480.8,0.261],[481.6,0.247],[483,0.289],[483.8,0.239],[485.3,0.271],[486.1,0.256],[487.7,0.294],[488.4,0.232],[489.8,0.268],
  [490.7,0.258],[491.5,0.276],[493,0.241],[493.8,0.291],[495.2,0.268],[496.8,0.248],[497.4,0.281],[498.9,0.236],[499.5,0.263],
  [500.8,0.279],[501.6,0.241],[503,0.262],[503.8,0.293],[505.3,0.251],[506.1,0.276],[507.7,0.231],[508.4,0.289],[509.8,0.246],
  [510.7,0.262],[511.5,0.276],[513,0.238],[513.8,0.291],[515.2,0.254],[516.8,0.269],[517.4,0.229],[518.9,0.248],[519.5,0.273],
  [520.8,0.246],[521.6,0.291],[523,0.261],[523.8,0.276],[525.3,0.238],[526.1,0.264],[527.7,0.252],[528.4,0.285],[529.8,0.229],
  [530.7,0.261],[531.5,0.248],[533,0.272],[533.8,0.234],[535.2,0.257],[536.8,0.286],[537.4,0.242],[538.9,0.266],[539.5,0.219],
  [540.8,0.241],[541.6,0.271],[543,0.226],[543.8,0.262],[545.3,0.251],[546.1,0.289],[547.7,0.236],[548.4,0.267],[549.8,0.254],
  [550.7,0.273],[551.5,0.242],[553,0.258],[553.8,0.291],[555.2,0.262],[556.8,0.229],[557.4,0.274],[558.9,0.251],[559.5,0.281],
  [560.8,0.238],[561.6,0.259],[563,0.271],[563.8,0.226],[565.3,0.261],[566.1,0.244],[567.7,0.276],[568.4,0.231],[569.8,0.253],
  [570.7,0.261],[571.5,0.238],[573,0.282],[573.8,0.256],[575.2,0.229],[576.8,0.251],[577.4,0.274],[578.9,0.236],[579.5,0.264],
  [580.8,0.268],[581.6,0.252],[583,0.291],[583.8,0.236],[585.3,0.276],[586.1,0.258],[587.7,0.241],[588.4,0.283],[589.8,0.261],
  [590.7,0.246],[591.5,0.282],[593,0.234],[593.8,0.266],[595.2,0.279],[596.8,0.238],[597.4,0.261],[598.9,0.251],[599.5,0.289],
  [600.8,0.259],[601.6,0.232],[603,0.278],[603.8,0.249],[605.3,0.264],[606.1,0.241],[607.7,0.283],[608.4,0.226],[609.8,0.257],
  [610.7,0.261],[611.5,0.238],[613,0.274],[613.8,0.223],[615.2,0.252],[616.8,0.279],[617.4,0.236],[618.9,0.248],[619.5,0.286]
];
const rawCoreC = [
  [620.8,0.252],[621.6,0.279],[623,0.236],[623.8,0.264],[625.3,0.242],[626.1,0.291],[627.7,0.258],[628.4,0.229],[629.8,0.273],
  [630.7,0.241],[631.5,0.276],[633,0.257],[633.8,0.228],[635.2,0.271],[636.8,0.246],[637.4,0.262],[638.9,0.234],[639.8,0.281],
  [640.8,0.268],[641.6,0.238],[643,0.281],[643.8,0.251],[645.3,0.226],[646.1,0.267],[647.7,0.243],[648.4,0.289],[649.5,0.256],
  [650.8,0.237],[651.8,0.271],[653,0.252],[653.8,0.231],[655.3,0.289],[656.1,0.261],[657.7,0.246],[658.4,0.276],[659.8,0.259],
  [660.7,0.262],[661.5,0.289],[663,0.241],[663.8,0.274],[665.3,0.256],[666.1,0.297],[667.7,0.236],[668.4,0.281],[669.5,0.264],
  [670.8,0.284],[671.6,0.251],[673,0.276],[673.8,0.301],[675.3,0.262],[676.1,0.237],[677.7,0.289],[678.4,0.271],[679.8,0.316],
  [680.7,0.292],[681.5,0.251],[683,0.276],[683.8,0.318],[685.3,0.267],[686.1,0.301],[687.7,0.284],[688.4,0.246],[689.5,0.326],
  [690.8,0.276],[691.6,0.312],[693,0.264],[693.8,0.291],[695.3,0.246],[696.1,0.306],[697.7,0.268],[698.4,0.229],[699.5,0.284],
  [700.8,0.254],[701.6,0.226],[703,0.269],[703.8,0.241],[705.3,0.211],[706.1,0.248],[707.7,0.276],[708.4,0.232],[709.8,0.259],
  [710.7,0.236],[711.5,0.206],[713,0.251],[713.8,0.223],[715.3,0.264],[716.1,0.199],[717.7,0.232],[718.4,0.258],[719.5,0.214],
  [720.8,0.238],[721.6,0.214],[723,0.259],[723.8,0.229],[725.3,0.204],[726.1,0.266],[727.7,0.243],[728.4,0.219],[729.8,0.254],
  [730.7,0.241],[731.5,0.227],[733,0.263],[733.8,0.211],[735.2,0.248],[736.8,0.272],[737.4,0.231],[738.9,0.256],[739.5,0.219],
  [740.8,0.262],[741.6,0.236],[743,0.281],[743.8,0.251],[745.3,0.219],[746.1,0.268],[747.7,0.243],[748.4,0.291],[749.8,0.229],
  [750.7,0.256],[751.5,0.281],[753,0.241],[753.8,0.268],[755.2,0.226],[756.8,0.262],[757.4,0.294],[758.9,0.237],[759.5,0.271],
  [760.8,0.249],[761.6,0.276],[763,0.228],[763.8,0.259],[765.3,0.286],[766.1,0.241],[767.7,0.266],[768.4,0.231],[769.8,0.279],
  [770.7,0.266],[771.5,0.243],[773,0.288],[773.8,0.254],[775.2,0.271],[776.8,0.232],[777.4,0.259],[778.9,0.281],[779.5,0.247],
  [780.8,0.252],[781.6,0.281],[783,0.239],[783.8,0.268],[785.3,0.246],[786.1,0.291],[787.7,0.258],[788.4,0.227],[789.8,0.271],
  [790.7,0.258],[791.5,0.236],[793,0.272],[793.8,0.249],[795.2,0.226],[796.8,0.264],[797.4,0.283],[798.9,0.241],[799.5,0.216],
  [800.8,0.243],[801.6,0.271],[803,0.229],[803.8,0.256],[805.3,0.281],[806.1,0.236],[807.7,0.262],[808.4,0.247],[809.8,0.221],
  [810.7,0.268],[811.5,0.236],[813,0.257],[813.8,0.283],[815.2,0.246],[816.8,0.227],[817.4,0.271],[818.9,0.251],[819.5,0.238],
  [820.8,0.254],[821.6,0.278],[823,0.238],[823.8,0.266],[825.3,0.224],[826.1,0.261],[827.7,0.287],[828.4,0.246],[829.8,0.272],
  [830.7,0.261],[831.5,0.286],[833,0.248],[833.8,0.301],[835.2,0.267],[836.8,0.238],[837.4,0.279],[838.9,0.256],[839.5,0.292],
  [840.8,0.281],[841.6,0.248],[843,0.296],[843.8,0.263],[845.3,0.238],[846.1,0.276],[847.7,0.254],[848.4,0.307],[849.8,0.268],
  [850.8,0.276],[851.6,0.244],[853,0.263],[853.8,0.289],[855.3,0.252],[856.1,0.271],[857.7,0.233],[858.4,0.282],[859.8,0.259],
  [860.7,0.251],[861.5,0.276],[863,0.238],[863.8,0.267],[865.3,0.289],[866.1,0.254],[867.7,0.228],[868.4,0.271],[869.5,0.246],
  [870.8,0.264],[871.6,0.231],[873,0.276],[873.8,0.249],[875.3,0.287],[876.1,0.257],[877.7,0.238],[878.4,0.269],[879.8,0.246],
  [880.7,0.247],[881.5,0.271],[883,0.234],[883.8,0.262],[885.3,0.281],[886.1,0.243],[887.7,0.259],[888.4,0.226],[889.5,0.291],
  [890.8,0.273],[891.6,0.246],[893,0.262],[893.8,0.291],[895.3,0.251],[896.1,0.277],[897.7,0.238],[898.4,0.302],[899.8,0.264],
  [900.7,0.262],[901.5,0.281],[903,0.243],[903.8,0.271],[905.3,0.256],[906.1,0.294],[907.7,0.232],[908.4,0.266],[909.5,0.284],
  [910.8,0.246],[911.6,0.272],[913,0.258],[913.8,0.229],[915.3,0.281],[916.1,0.252],[917.7,0.238],[918.4,0.276],[919.8,0.261],
  [920.7,0.251],[921.5,0.276],[923,0.236],[923.8,0.262],[925.3,0.287],[926.1,0.241],[927.7,0.269],[928.4,0.226],[929.5,0.256],
  [930.8,0.264],[931.6,0.232],[933,0.251],[933.8,0.278],[935.3,0.226],[936.1,0.262],[937.7,0.243],[938.4,0.286],[939.8,0.219],
  [940.7,0.241],[941.5,0.266],[943,0.228],[943.8,0.253],[945.3,0.274],[946.1,0.212],[947.7,0.249],[948.4,0.236],[949.5,0.261],
  [950.8,0.252],[951.6,0.226],[953,0.266],[953.8,0.241],[955.3,0.213],[956.1,0.279],[957.7,0.236],[958.4,0.262],[959.8,0.221],
  [960.7,0.248],[961.5,0.272],[963,0.217],[963.8,0.258],[965.3,0.236],[966.1,0.284],[967.7,0.211],[968.4,0.251],[969.5,0.268],
  [970.8,0.236],[971.6,0.264],[973,0.248],[973.8,0.219],[975.3,0.276],[976.1,0.231],[977.7,0.258],[978.4,0.204],[979.8,0.272],
  [980.7,0.252],[981.5,0.226],[983,0.281],[983.8,0.245],[985.3,0.211],[986.1,0.264],[987.7,0.238],[988.4,0.279],[989.5,0.218],
  [990.8,0.261],[991.6,0.228],[993,0.249],[993.8,0.276],[995.3,0.239],[996.1,0.206],[997.7,0.263],[998.4,0.221],[999.5,0.251]
];

// Averaged data (50 point)
const avgTime = [3, 3.5, 8, 12, 14.5, 17.4, 20, 22, 24.8, 27, 28.9, 32, 36.2, 39.5, 42.7, 46, 50.8, 55.7, 60.6, 63.8, 67.1, 70.4, 73.6, 76.9, 81.7, 86.6, 89.9, 93.1, 98, 101.2, 104.5, 107.7, 112.6, 115.9, 119.1, 121.6, 125.6, 128.9, 131.3, 133.8, 136.2, 138.7, 141.9, 145.2, 148.4, 151.7, 155.7, 159.8, 163, 165.5, 168, 170.3, 172.8, 175, 178, 181, 185.8, 189, 192.3, 195.5, 198.8, 202, 205.5, 210.5, 215, 220, 224, 229, 234.2, 239.5, 241.2, 244.7, 250, 253.5, 257, 262, 266, 271.1, 274.6, 279.8, 285.1, 290.4, 295.6, 300.9, 306.1, 309.6, 313.2, 316.7, 321.9, 327.2, 332.5, 337.7, 341.2, 344.7, 350, 355.3, 358.8, 364, 367.5, 370.2, 372.8, 376.3, 379.8, 383.3, 386.8, 390.4, 395.6, 402.6, 409.6, 416.7, 423.7, 430.7, 436, 441.2, 446.5, 451.8, 457, 462.3, 467.5, 471.1, 474.6, 479.8, 482.4, 487.7, 493, 498.2, 503.5, 508.8, 512.3, 517.6, 521.1, 526.4, 531.7, 537, 542.3, 547.6, 552.9, 558.1, 563.4, 568.7, 574, 579.3, 584.6, 589.9, 595.2, 600.4, 605.7, 611, 616.3, 621.6, 626.9, 632.2, 637.4, 642.7, 648, 653.3, 658.6, 665.6, 672.7, 678, 683.3, 686.8, 690.3, 695.6, 700.9, 706.2, 711.5, 716.7, 722, 725.5, 729.1, 732.6, 736.5, 740.6, 744.8, 749, 753.1, 757.3, 763.5, 769.8, 774, 778.1, 782.3, 786.5, 792.7, 799, 803.1, 807.3, 811.5, 817.7, 821.9, 826, 830.2, 836.5, 842.7, 849, 853.1, 857.3, 861.5, 865.6, 869.8, 874, 880.2, 884.4, 888.5, 892.7, 899, 903.1, 907.3, 911.5, 915.6, 921.9, 928.1, 934.4, 940.6, 944.8, 949, 955.2, 961.5, 969.8, 978.1, 984.4, 990.6, 996.9, 1000];
const avgError = [0.504, 0.474, 0.467, 0.461, 0.457, 0.445, 0.418, 0.396, 0.372, 0.352, 0.339, 0.35, 0.3595, 0.3554, 0.3446, 0.3365, 0.3324, 0.3331, 0.3365, 0.3419, 0.3554, 0.3716, 0.3892, 0.4, 0.3986, 0.4041, 0.4108, 0.4176, 0.423, 0.4304, 0.4182, 0.4169, 0.4169, 0.4135, 0.4054, 0.3959, 0.3973, 0.4068, 0.4203, 0.4243, 0.4176, 0.4027, 0.3966, 0.3973, 0.4027, 0.4122, 0.4135, 0.4095, 0.4027, 0.3892, 0.369, 0.349, 0.329, 0.312, 0.302, 0.296, 0.28, 0.2654, 0.2533, 0.2411, 0.229, 0.2193, 0.2124, 0.2165, 0.222, 0.229, 0.233, 0.2335, 0.237, 0.2423, 0.2432, 0.2353, 0.2353, 0.2423, 0.2564, 0.2705, 0.2723, 0.267, 0.2582, 0.2529, 0.2547, 0.2564, 0.2653, 0.2617, 0.2564, 0.2494, 0.2564, 0.267, 0.274, 0.2758, 0.2723, 0.274, 0.2846, 0.2899, 0.2899, 0.2917, 0.2882, 0.2846, 0.2811, 0.2776, 0.2846, 0.2864, 0.2846, 0.2811, 0.2723, 0.267, 0.2653, 0.2644, 0.2653, 0.2679, 0.2705, 0.274, 0.2723, 0.274, 0.2723, 0.2688, 0.2653, 0.2688, 0.2705, 0.267, 0.26, 0.2564, 0.2564, 0.2617, 0.267, 0.2705, 0.267, 0.2564, 0.2529, 0.2617, 0.2653, 0.26, 0.2511, 0.2494, 0.2564, 0.2617, 0.2617, 0.2564, 0.2441, 0.2388, 0.2494, 0.26, 0.2653, 0.2617, 0.2529, 0.2459, 0.2476, 0.2494, 0.2459, 0.2511, 0.2547, 0.2529, 0.2476, 0.2423, 0.2441, 0.2564, 0.2653, 0.267, 0.2705, 0.2776, 0.2882, 0.2917, 0.2811, 0.274, 0.2617, 0.2494, 0.2371, 0.2318, 0.2318, 0.2406, 0.2511, 0.2547, 0.2494, 0.2423, 0.2441, 0.2582, 0.267, 0.2635, 0.2582, 0.2547, 0.26, 0.2653, 0.267, 0.2617, 0.2529, 0.2459, 0.2423, 0.2459, 0.2494, 0.2494, 0.2459, 0.26, 0.2723, 0.2723, 0.274, 0.2793, 0.2723, 0.2653, 0.2582, 0.2564, 0.26, 0.2582, 0.2564, 0.2547, 0.2617, 0.2723, 0.2776, 0.2705, 0.2653, 0.2617, 0.26, 0.2564, 0.2529, 0.2529, 0.2511, 0.2476, 0.2423, 0.2371, 0.2371, 0.2371, 0.2371, 0.2379, 0.2371, 0.2362, 0.2362];

// Highlight boxes around selected points
const boxTime = [10.6, 163.1, 51, 202.2, 960.1];
const boxError = [0.5068, 0.4892, 0.2351, 0.1658, 0.2302];
const boxColor = ['#ED1C24', '#00A651', '#2E3192', '#F7941D', '#FFF200'];

const legendLabels = ['Raw data', 'Averaged data (50 point)'];

const W = 2913, H = 2164;
const margin = { top: 136, right: 95, bottom: 288, left: 464 };
const innerW = W - margin.left - margin.right;
const innerH = H - margin.top - margin.bottom;
const RED = '#ED1C24';
const CROSS = 'M-14,-14L14,14M-14,14L14,-14';

const svg = d3.select('#chart').attr('width', W).attr('height', H);
svg.append('rect').attr('width', W).attr('height', H).attr('fill', '#fff');

svg.append('defs').append('clipPath').attr('id', 'plot-clip')
    .append('rect').attr('width', innerW).attr('height', innerH);

const g = svg.append('g').attr('transform', `translate(${margin.left},${margin.top})`);

const x = d3.scaleLinear().domain([0, 1000]).range([0, innerW]);
const y = d3.scaleLinear().domain([0.14, 0.51]).range([innerH, 0]);

// Raw data crosses
const rawData = rawStart.concat(rawHump, rawDrop, rawPlateau, rawCoreA, rawCoreB, rawCoreC);
g.append('g').attr('clip-path', 'url(#plot-clip)')
    .selectAll('path')
    .data(rawData)
    .join('path')
    .attr('d', CROSS)
    .attr('transform', d => `translate(${x(d[0])},${y(d[1])})`)
    .attr('fill', 'none')
    .attr('stroke', '#000')
    .attr('stroke-opacity', 0.62)
    .attr('stroke-width', 4.4);

// Averaged line
const avgData = avgTime.map((t, i) => ({ t, v: avgError[i] }));
g.append('path')
    .datum(avgData)
    .attr('clip-path', 'url(#plot-clip)')
    .attr('fill', 'none')
    .attr('stroke', RED)
    .attr('stroke-width', 17)
    .attr('stroke-linejoin', 'round')
    .attr('stroke-linecap', 'round')
    .attr('d', d3.line().x(d => x(d.t)).y(d => y(d.v)));

// Axes: major + minor ticks on all four sides
function styleAxis(sel) {
    sel.select('.domain').remove();
    sel.selectAll('.tick line').attr('stroke', '#000').attr('stroke-width', 3);
    sel.selectAll('.tick text').style('font-size', '76px').attr('fill', '#000');
}
g.append('g').attr('transform', `translate(0,${innerH})`)
    .call(d3.axisBottom(x).tickValues(xTicks).tickSize(35).tickPadding(32).tickFormat(d3.format('d')))
    .call(styleAxis);
g.append('g').attr('transform', `translate(0,${innerH})`)
    .call(d3.axisBottom(x).tickValues(xMinorTicks).tickSize(18).tickFormat(''))
    .call(styleAxis);
g.append('g')
    .call(d3.axisBottom(x).tickValues(xTicks).tickSize(35).tickFormat(''))
    .call(styleAxis);
g.append('g')
    .call(d3.axisBottom(x).tickValues(xMinorTicks).tickSize(18).tickFormat(''))
    .call(styleAxis);
g.append('g')
    .call(d3.axisLeft(y).tickValues(yTicks).tickSize(35).tickPadding(26).tickFormat(d3.format('.2f')))
    .call(styleAxis);
g.append('g')
    .call(d3.axisLeft(y).tickValues(yMinorTicks).tickSize(18).tickFormat(''))
    .call(styleAxis);
g.append('g').attr('transform', `translate(${innerW},0)`)
    .call(d3.axisLeft(y).tickValues(yTicks).tickSize(35).tickFormat(''))
    .call(styleAxis);
g.append('g').attr('transform', `translate(${innerW},0)`)
    .call(d3.axisLeft(y).tickValues(yMinorTicks).tickSize(18).tickFormat(''))
    .call(styleAxis);

g.append('rect')
    .attr('width', innerW).attr('height', innerH)
    .attr('fill', 'none').attr('stroke', '#000').attr('stroke-width', 4.5);

// Highlight boxes
g.selectAll('.hl')
    .data(boxTime.map((t, i) => ({ t, v: boxError[i], c: boxColor[i] })))
    .join('rect')
    .attr('x', d => x(d.t) - 62.5)
    .attr('y', d => y(d.v) - 62.5)
    .attr('width', 125).attr('height', 125)
    .attr('fill', 'none')
    .attr('stroke', d => d.c)
    .attr('stroke-width', 33);

// Axis titles
svg.append('text')
    .attr('x', margin.left + innerW / 2).attr('y', 2146)
    .attr('text-anchor', 'middle')
    .style('font-size', '92px')
    .text('Elapsed Time (minutes)');
svg.append('text')
    .attr('transform', 'translate(119,1073) rotate(-90)')
    .attr('text-anchor', 'middle')
    .style('font-size', '92px')
    .text('Iteration mean error');

// Panel label
svg.append('text').attr('x', 28).attr('y', 121).style('font-size', '128px').text('(b)');

// Legend
const legend = svg.append('g');
legend.append('path').attr('d', 'M-12,-12L12,12M-12,12L12,-12').attr('transform', 'translate(1845,225)')
    .attr('fill', 'none').attr('stroke', '#000').attr('stroke-opacity', 0.55).attr('stroke-width', 3.5);
legend.append('text').attr('x', 1954).attr('y', 251).style('font-size', '76px').text(legendLabels[0]);
legend.append('line').attr('x1', 1765).attr('x2', 1929).attr('y1', 320).attr('y2', 320)
    .attr('stroke', RED).attr('stroke-width', 17).attr('stroke-linecap', 'round');
legend.append('text').attr('x', 1954).attr('y', 344).style('font-size', '76px').text(legendLabels[1]);
</script>
</body>
</html>
